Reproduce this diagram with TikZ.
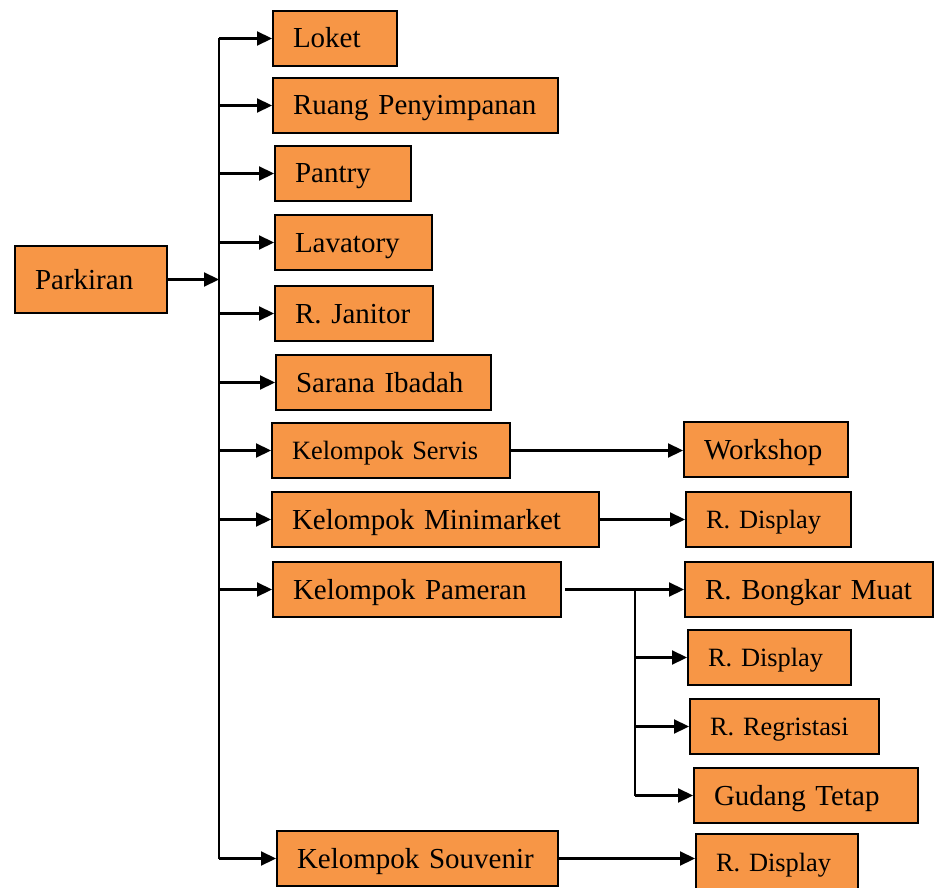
\documentclass[tikz,border=0pt]{standalone}
\usepackage{fontspec}
\setmainfont{Liberation Serif}
\usetikzlibrary{arrows.meta}
\definecolor{boxfill}{HTML}{F79646}
\newcommand\bigf{\fontsize{29}{33}\selectfont}
\newcommand\smallf{\fontsize{26.4}{30}\selectfont}
\begin{document}
\begin{tikzpicture}[x=1pt,y=-1pt,
  box/.style={draw=black, line width=2pt, fill=boxfill, inner xsep=20pt, inner ysep=0pt,
    align=left, anchor=north west, minimum height=55pt, text height=19pt, text depth=0pt, font=\bigf},
  sbox/.style={box, font=\smallf, text height=17.5pt},
  conn/.style={line width=2.2pt, draw=black},
  arr/.style={conn, -{Triangle[length=15pt,width=14pt]}}]
\useasboundingbox (0,0) rectangle (938,888);
% left / main boxes
\node[box, text width=112pt, minimum height=67pt] (park) at (14,245) {Parkiran};
\node[box, text width=84pt]  (loket)   at (272,10)  {Loket};
\node[box, text width=245pt] (ruang)   at (272,77)  {Ruang Penyimpanan};
\node[box, text width=96pt]  (pantry)  at (274,145) {Pantry};
\node[box, text width=117pt] (lav)     at (274,214) {Lavatory};
\node[box, text width=118pt] (jan)     at (274,285) {R. Janitor};
\node[box, text width=175pt] (sarana)  at (275,354) {Sarana Ibadah};
\node[sbox, text width=198pt] (servis) at (271,422) {Kelompok Servis};
\node[box, text width=287pt] (mini)    at (271,491) {Kelompok Minimarket};
\node[box, text width=248pt] (pameran) at (272,561) {Kelompok Pameran};
\node[box, text width=241pt] (souv)    at (276,830) {Kelompok Souvenir};
% right boxes
\node[box, text width=124pt]  (work)    at (683,421) {Workshop};
\node[sbox, text width=125pt] (dispa)   at (685,491) {R. Display};
\node[box, text width=208pt]  (bongkar) at (684,561) {R. Bongkar Muat};
\node[sbox, text width=123pt] (dispb)   at (687,629) {R. Display};
\node[sbox, text width=149pt] (regis)   at (689,698) {R. Regristasi};
\node[box, text width=184pt]  (gudang)  at (693,767) {Gudang Tetap};
\node[sbox, text width=122pt, minimum height=57pt] (dispc) at (695,833) {R. Display};
% trunk
\coordinate (tr) at (219,0);
\draw[conn] (loket.west -| tr) -- (souv.west -| tr);
\draw[arr] (park.east) -- (park.east -| tr);
\foreach \n in {loket,ruang,pantry,lav,jan,sarana,servis,mini,pameran,souv}
  \draw[arr] (\n.west -| tr) -- (\n.west);
% right connectors
\draw[arr] (servis.east) -- (servis.east -| work.west);
\draw[arr] (mini.east) -- (mini.east -| dispa.west);
\draw[arr] (souv.east) -- (souv.east -| dispc.west);
\coordinate (pb) at (635,0);
\draw[arr] ([xshift=3pt]pameran.east) -- (pameran.east -| bongkar.west);
\draw[conn] (pameran.east -| pb) -- (gudang.west -| pb);
\foreach \n in {dispb,regis,gudang}
  \draw[arr] (\n.west -| pb) -- (\n.west);
\end{tikzpicture}
\end{document}
